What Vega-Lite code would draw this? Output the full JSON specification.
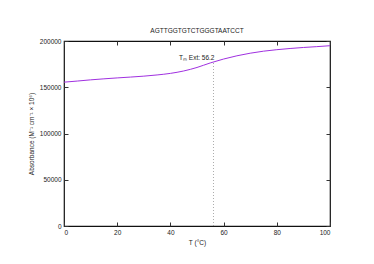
{
  "$schema": "https://vega.github.io/schema/vega-lite/v6.json",
  "width": 266,
  "height": 185,
  "padding": {"left": 64, "top": 41, "right": 44, "bottom": 38},
  "autosize": {"type": "none"},
  "background": "white",
  "config": {
    "view": {"stroke": "#111", "strokeWidth": 1.2},
    "font": "Liberation Sans",
    "axis": {
      "grid": false,
      "domain": false,
      "ticks": true,
      "tickSize": -4,
      "tickColor": "#333",
      "tickWidth": 1,
      "labelFont": "Liberation Sans",
      "labelFontSize": 6.5,
      "labelColor": "#222",
      "titleFont": "Liberation Sans",
      "titleFontSize": 6.5,
      "titleFontWeight": "normal",
      "titleColor": "#222",
      "labelPadding": 7
    }
  },
  "title": {
    "text": "AGTTGGTGTCTGGGTAATCCT",
    "fontSize": 6.5,
    "fontWeight": "normal",
    "font": "Liberation Sans",
    "color": "#222",
    "offset": 4
  },
  "datasets": {
    "curve": [
      {"T": 0, "A": 155500},
      {"T": 5, "A": 156700},
      {"T": 10, "A": 158000},
      {"T": 15, "A": 159100},
      {"T": 20, "A": 160100},
      {"T": 25, "A": 161000},
      {"T": 30, "A": 162000},
      {"T": 35, "A": 163300},
      {"T": 40, "A": 165000},
      {"T": 45, "A": 167600},
      {"T": 50, "A": 171400},
      {"T": 55, "A": 176300},
      {"T": 60, "A": 180500},
      {"T": 65, "A": 184000},
      {"T": 70, "A": 186800},
      {"T": 75, "A": 189000},
      {"T": 80, "A": 190600},
      {"T": 85, "A": 191900},
      {"T": 90, "A": 193000},
      {"T": 95, "A": 193900},
      {"T": 100, "A": 194900}
    ],
    "tm": [
      {"T": 56.2, "A": 0, "label": ""},
      {"T": 56.2, "A": 177600, "label": "Tₘ Ext: 56.2"}
    ]
  },
  "layer": [
    {
      "data": {"name": "curve"},
      "mark": {"type": "line", "color": "#a030e0", "strokeWidth": 1, "interpolate": "monotone"},
      "encoding": {
        "x": {"field": "T", "type": "quantitative", "scale": {"domain": [0, 100], "nice": false},
          "axis": {"title": "T (°C)", "values": [0, 20, 40, 60, 80, 100], "titlePadding": 4}},
        "y": {"field": "A", "type": "quantitative", "scale": {"domain": [0, 200000], "nice": false},
          "axis": {"title": "Absorbance (M⁻¹ cm⁻¹ × 10⁶)", "values": [0, 50000, 100000, 150000, 200000], "format": "d", "titlePadding": 5}}
      }
    },
    {
      "data": {"name": "tm"},
      "mark": {"type": "line", "color": "#888", "strokeWidth": 0.7, "strokeDash": [1, 2]},
      "encoding": {
        "x": {"field": "T", "type": "quantitative", "axis": {"title": null, "labels": false, "values": [0, 20, 40, 60, 80, 100]}},
        "y": {"field": "A", "type": "quantitative", "axis": {"title": null, "labels": false, "values": [0, 50000, 100000, 150000, 200000]}}
      }
    },
    {
      "data": {"name": "tm"},
      "mark": {"type": "text", "align": "right", "baseline": "bottom", "dx": 1, "dy": -1, "fontSize": 6.5, "color": "#222", "font": "Liberation Sans"},
      "encoding": {
        "x": {"field": "T", "type": "quantitative", "axis": null},
        "y": {"field": "A", "type": "quantitative", "axis": null},
        "text": {"field": "label"}
      }
    }
  ],
  "resolve": {"axis": {"x": "independent", "y": "independent"}}
}
